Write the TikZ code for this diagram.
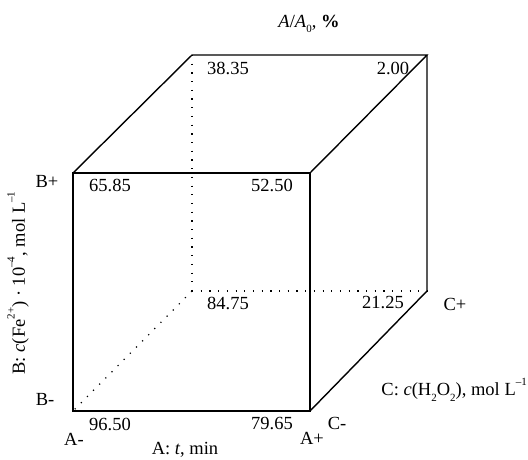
\documentclass[tikz,border=0pt]{standalone}
\usepackage{fontspec}
\setmainfont{Liberation Serif}
\newcommand{\mysup}[1]{\raisebox{0.55em}{\fontsize{11}{11}\selectfont #1}}
\newcommand{\mysub}[1]{\raisebox{-0.3em}{\fontsize{11}{11}\selectfont #1}}
\begin{document}
\begin{tikzpicture}[x=1pt,y=-1pt,
  edge/.style={line width=1.4pt,line join=miter},
  hid/.style={line width=1.2pt,dash pattern=on 1.2pt off 7.5pt},
  lab/.style={inner sep=0pt,font=\fontsize{18.5}{20}\selectfont}]
\useasboundingbox (0,0) rectangle (528,460);
% corners
\coordinate (f1) at (73,173);
\coordinate (f2) at (310,173);
\coordinate (f3) at (310,411);
\coordinate (f4) at (73,411);
\coordinate (b1) at (192,55);
\coordinate (b2) at (427,55);
\coordinate (b3) at (427,291);
\coordinate (b4) at (192,291);
% hidden edges
\draw[hid] (b1) -- (b4);
\draw[hid] (b4) -- (b3);
\draw[hid] (b4) -- (f4);
% visible edges
\draw[edge] (f1) -- (f2) -- (f3) -- (f4) -- cycle;
\draw[edge] (f1) -- (b1) -- (b2) -- (f2);
\draw[edge] (b2) -- (b3) -- (f3);
% values
\node[lab] (v1) at (228,68) {38.35};
\node[lab] (v2) at (393,68) {2.00};
\node[lab] (v3) at (110,185) {65.85};
\node[lab] (v4) at (272,185) {52.50};
\node[lab] (v5) at (228,303) {84.75};
\node[lab] (v6) at (383,303) {21.25};
\node[lab] (v7) at (110,424) {96.50};
\node[lab] (v8) at (272,424) {79.65};
% level labels
\node[lab] (am) at (74,439) {A-};
\node[lab] (ap) at (312,438) {A+};
\node[lab] (cm) at (337,423) {C-};
\node[lab] (cp) at (455,304) {C+};
\node[lab] (bp) at (47,181) {B+};
\node[lab] (bm) at (45,399) {B-};
% axis titles
\node[lab] (ta) at (185,450) {A: \textit{t}, min};
\node[lab,anchor=east] (tc) at (527,390) {C: \textit{c}(H\mysub{2}O\mysub{2}), mol L\mysup{–1}};
\node[lab,rotate=90] (tb) at (18,283) {B: \textit{c}(Fe\mysup{2+}) · 10\mysup{–4}, mol L\mysup{–1}};
\node[lab] (tr) at (309,24) {\textit{A}/\textit{A}\mysub{0}, \textbf{\%}};
\end{tikzpicture}
\end{document}
